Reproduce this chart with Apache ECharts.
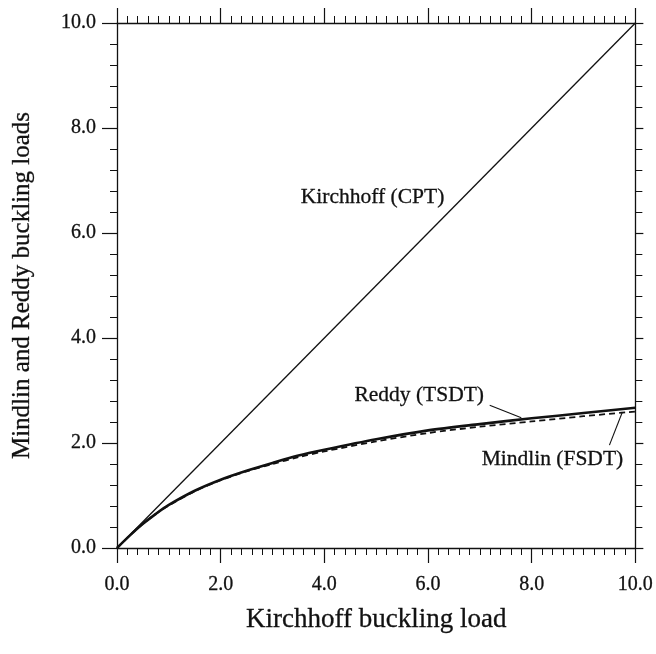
<!DOCTYPE html>
<html>
<head>
<meta charset="utf-8">
<script src="https://cdn.jsdelivr.net/npm/echarts@6/dist/echarts.min.js"></script>
<style>
html,body{margin:0;padding:0;background:#fff;}
#chart{width:656px;height:654px;}
</style>
</head>
<body>
<div id="chart"></div>
<script>
// ---- data ----
var kirchhoffX = [0, 10];
var kirchhoffY = [0, 10];
var nkX = [0, 0.25, 0.5, 0.75, 1, 1.5, 2, 2.5, 3, 3.5, 4, 5, 6, 7, 8, 9, 10];
var reddyY = [0, 0.24, 0.46, 0.65, 0.82, 1.09, 1.30, 1.47, 1.62, 1.76, 1.87, 2.07, 2.24, 2.36, 2.47, 2.57, 2.67];
var mindlinY = [0, 0.24, 0.46, 0.65, 0.81, 1.08, 1.29, 1.46, 1.60, 1.73, 1.84, 2.03, 2.19, 2.31, 2.41, 2.51, 2.60];
var xTitle = 'Kirchhoff buckling load';
var yTitle = 'Mindlin and Reddy buckling loads';
var labelKirchhoff = 'Kirchhoff (CPT)';
var labelReddy = 'Reddy (TSDT)';
var labelMindlin = 'Mindlin (FSDT)';
var labelKirchhoffAt = [4.93, 6.67];
var labelReddyAt = [5.83, 2.90];
var labelMindlinAt = [8.40, 1.68];
var leaderReddy = [[7.19, 2.72], [7.80, 2.48]];
var leaderMindlin = [[9.50, 1.96], [9.75, 2.59]];

function pairs(xs, ys){ return xs.map(function(x,i){ return [x, ys[i]]; }); }

var FONT = '"Liberation Serif", "Times New Roman", serif';
var black = '#111';
var thick = {textBorderColor: black, textBorderWidth: 0.3};

function xAxisCfg(pos, showLabel, name){
  return {
    type: 'value', position: pos, min: 0, max: 10, interval: 2,
    axisLine: {show: true, onZero: false, lineStyle: {color: black, width: 1.3}},
    axisTick: {show: true, inside: false, length: 15, lineStyle: {color: black, width: 1.2}},
    minorTick: {show: true, splitNumber: 10, length: 7, lineStyle: {color: black, width: 1}},
    splitLine: {show: false}, minorSplitLine: {show: false},
    axisLabel: Object.assign({show: showLabel, margin: 27, fontFamily: FONT, fontSize: 20, color: black,
      formatter: function(v){ return v.toFixed(1); }}, thick),
    name: name || '', nameLocation: 'middle', nameGap: 58,
    nameTextStyle: Object.assign({fontFamily: FONT, fontSize: 27, color: black}, thick)
  };
}
function yAxisCfg(pos, showLabel, name, majorLen){
  return {
    type: 'value', position: pos, min: 0, max: 10, interval: 2,
    axisLine: {show: true, onZero: false, lineStyle: {color: black, width: 1.3}},
    axisTick: {show: true, inside: false, length: majorLen, lineStyle: {color: black, width: 1.2}},
    minorTick: {show: true, splitNumber: 5, length: 7, lineStyle: {color: black, width: 1}},
    splitLine: {show: false}, minorSplitLine: {show: false},
    axisLabel: Object.assign({show: showLabel, margin: 21, fontFamily: FONT, fontSize: 20, color: black,
      formatter: function(v){ return v.toFixed(1); }}, thick),
    name: name || '', nameLocation: 'middle', nameGap: 82,
    nameTextStyle: Object.assign({fontFamily: FONT, fontSize: 25, color: black}, thick)
  };
}
function annLabel(){
  return Object.assign({show: true, position: 'inside', fontFamily: FONT, fontSize: 21.5, color: black,
    formatter: function(p){ return p.name; }}, thick);
}

var chart = echarts.init(document.getElementById('chart'), null, {renderer: 'canvas'});
chart.setOption({
  backgroundColor: '#fff',
  animation: false,
  grid: {left: 117, right: 20, top: 23, bottom: 106},
  xAxis: [xAxisCfg('bottom', true, xTitle), xAxisCfg('top', false)],
  yAxis: [yAxisCfg('left', true, yTitle, 15), yAxisCfg('right', false, '', 8)],
  series: [
    {
      type: 'line', name: 'Kirchhoff', xAxisIndex: 0, yAxisIndex: 0,
      data: pairs(kirchhoffX, kirchhoffY), showSymbol: false,
      lineStyle: {color: black, width: 1.3},
      markPoint: {
        symbol: 'circle', symbolSize: 0, label: annLabel(),
        data: [{name: labelKirchhoff, coord: labelKirchhoffAt}]
      }
    },
    {
      type: 'line', name: 'Mindlin', xAxisIndex: 0, yAxisIndex: 0,
      data: pairs(nkX, mindlinY), showSymbol: false, smooth: 0.3,
      lineStyle: {color: black, width: 1.8, type: [6, 4]},
      markPoint: {
        symbol: 'circle', symbolSize: 0, label: annLabel(),
        data: [{name: labelMindlin, coord: labelMindlinAt}]
      },
      markLine: {
        silent: true, symbol: ['none', 'none'], label: {show: false},
        lineStyle: {color: black, width: 1.1, type: 'solid'},
        data: [[{coord: leaderMindlin[0]}, {coord: leaderMindlin[1]}]]
      }
    },
    {
      type: 'line', name: 'Reddy', xAxisIndex: 0, yAxisIndex: 0,
      data: pairs(nkX, reddyY), showSymbol: false, smooth: 0.3,
      lineStyle: {color: black, width: 2.6},
      markPoint: {
        symbol: 'circle', symbolSize: 0, label: annLabel(),
        data: [{name: labelReddy, coord: labelReddyAt}]
      },
      markLine: {
        silent: true, symbol: ['none', 'none'], label: {show: false},
        lineStyle: {color: black, width: 1.1, type: 'solid'},
        data: [[{coord: leaderReddy[0]}, {coord: leaderReddy[1]}]]
      }
    }
  ]
});
</script>
</body>
</html>
